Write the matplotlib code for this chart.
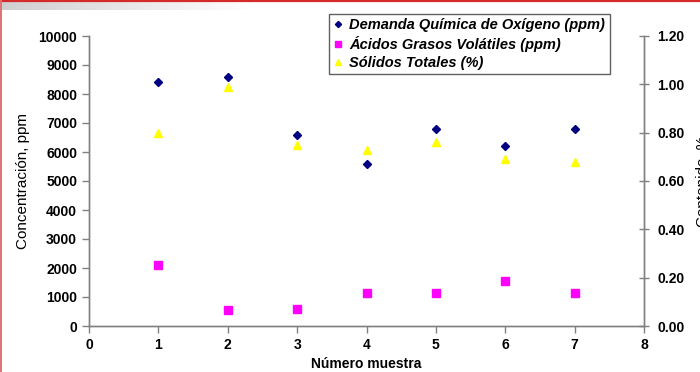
import numpy as np
import matplotlib.pyplot as plt
from matplotlib.lines import Line2D

plt.rcParams['font.family'] = ['Liberation Sans', 'DejaVu Sans']

# Sample numbers and measured values
muestras = [1, 2, 3, 4, 5, 6, 7]
dqo = [8400, 8600, 6600, 5600, 6800, 6200, 6800]        # ppm
agv = [2100, 550, 600, 1150, 1150, 1550, 1150]          # ppm
solidos = [0.80, 0.99, 0.75, 0.73, 0.76, 0.69, 0.68]    # %

left_ticks = np.arange(0, 10001, 1000)
right_ticks = np.arange(0, 1.21, 0.2)
x_ticks = np.arange(0, 9, 1)

fig = plt.figure(figsize=(7.0, 3.72), dpi=100)
fig.patch.set_facecolor('white')

# slide decoration: red border lines and grey fade strip at the top
band = fig.add_axes([0.0, 1 - 10 / 372, 0.36, 9 / 372])
grad = np.linspace(0, 1, 256)[None, :]
band.imshow(grad, aspect='auto', cmap=plt.matplotlib.colors.LinearSegmentedColormap.from_list(
    'fade', ['#cfcfcf', '#ffffff']), extent=[0, 1, 0, 1])
band.axis('off')
fig.add_artist(Line2D([0, 1], [1 - 1 / 372, 1 - 1 / 372], color='#d42a2a', lw=1.6,
                      transform=fig.transFigure))
fig.add_artist(Line2D([1 / 700, 1 / 700], [0, 1], color='#e07070', lw=1.4,
                      transform=fig.transFigure))

ax = fig.add_axes([89 / 700, 1 - 326 / 372, (644 - 89) / 700, (326 - 36) / 372])
ax2 = ax.twinx()

grey = '#808080'
for a in (ax, ax2):
    a.spines['top'].set_visible(False)
    for s in ('left', 'right', 'bottom'):
        a.spines[s].set_color(grey)
        a.spines[s].set_linewidth(1.0)

ax.plot(muestras, dqo, linestyle='none', marker='D', ms=4.2, color='#000080',
        label='Demanda Química de Oxígeno (ppm)')
ax.plot(muestras, agv, linestyle='none', marker='s', ms=5.6, color='#ff00ff',
        label='Ácidos Grasos Volátiles (ppm)')
ax2.plot(muestras, solidos, linestyle='none', marker='^', ms=6, color='#ffff00',
         label='Sólidos Totales (%)')

ax.set_xlim(0, 8)
ax.set_ylim(0, 10000)
ax2.set_ylim(0, 1.2)
ax.set_xticks(x_ticks)
ax.set_yticks(left_ticks)
ax2.set_yticks(right_ticks)
ax2.set_yticklabels([f'{v:.2f}' for v in right_ticks])

ax.tick_params(axis='both', colors=grey, labelcolor='black', labelsize=10, length=5, width=1)
ax2.tick_params(axis='y', direction='inout', colors=grey, labelcolor='black',
                labelsize=10, length=7, width=1, pad=6)
for lbl in ax.get_xticklabels() + ax.get_yticklabels() + ax2.get_yticklabels():
    lbl.set_fontweight('bold')

ax.set_xlabel('Número muestra', fontsize=10, fontweight='bold', labelpad=4)
ax.set_ylabel('Concentración, ppm', fontsize=11, labelpad=6)
ax2.set_ylabel('Contenido, %', fontsize=11, labelpad=8)

handles = ax.get_lines() + ax2.get_lines()
leg = fig.legend(handles, [h.get_label() for h in handles], loc='upper left',
                 bbox_to_anchor=(329 / 700, 1 - 14 / 372), frameon=True, fancybox=False,
                 framealpha=1, edgecolor='#606060', markerscale=0.75, handlelength=0.6,
                 handletextpad=0.5, borderpad=0.3, labelspacing=0.25, borderaxespad=0,
                 prop={'size': 10.5, 'weight': 'bold', 'style': 'italic'})
leg.get_frame().set_linewidth(1.0)

fig.savefig('out.png', dpi=100, facecolor='white')
